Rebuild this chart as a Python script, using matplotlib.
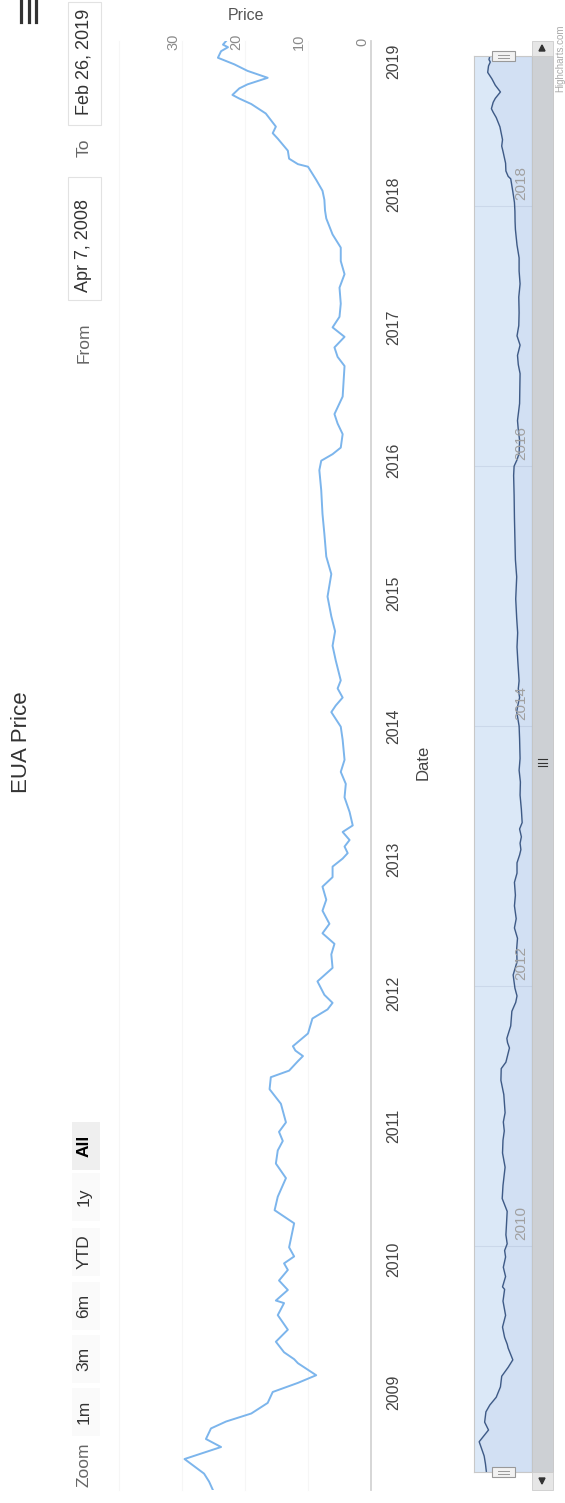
import pandas as pd
import matplotlib.pyplot as plt
from matplotlib.patches import Rectangle, Polygon
from matplotlib.lines import Line2D
from matplotlib.transforms import offset_copy

# EUA price series
dates = pd.to_datetime([
    '2008-04-07', '2008-04-30', '2008-05-22', '2008-07-01', '2008-08-03', '2008-08-25', '2008-09-23', '2008-10-12', '2008-11-03', '2008-12-02',
    '2009-01-01', '2009-01-26', '2009-02-16', '2009-03-21', '2009-04-01', '2009-04-20', '2009-05-19', '2009-06-21', '2009-07-31', '2009-09-02',
    '2009-09-09', '2009-10-08', '2009-11-03', '2009-12-02', '2009-12-20',
    '2010-01-08', '2010-02-02', '2010-04-09', '2010-05-15', '2010-06-21', '2010-08-11', '2010-09-20', '2010-10-26', '2010-11-21', '2010-12-16',
    '2011-01-11', '2011-03-03', '2011-04-12', '2011-05-15', '2011-06-02', '2011-06-28', '2011-07-12', '2011-07-27', '2011-08-08', '2011-09-12',
    '2011-10-23', '2011-11-17', '2011-12-05', '2011-12-27',
    '2012-02-02', '2012-03-10', '2012-04-16', '2012-05-15', '2012-06-13', '2012-07-09', '2012-08-14', '2012-09-13', '2012-10-19', '2012-11-14', '2012-12-13',
    '2013-01-04', '2013-01-19', '2013-02-06', '2013-02-24', '2013-03-18', '2013-04-05', '2013-05-12', '2013-06-21', '2013-07-28', '2013-08-30',
    '2013-10-02', '2013-11-26',
    '2014-01-01', '2014-02-10', '2014-02-28', '2014-03-22', '2014-04-16', '2014-05-08', '2014-07-02', '2014-08-11', '2014-09-20', '2014-10-31', '2014-12-24',
    '2015-02-24', '2015-04-13', '2015-06-14', '2015-08-08', '2015-10-12', '2015-12-06',
    '2016-01-01', '2016-01-19', '2016-02-06', '2016-03-14', '2016-04-12', '2016-05-08', '2016-06-25', '2016-09-17', '2016-10-12', '2016-11-07', '2016-12-06',
    '2017-01-01', '2017-01-30', '2017-03-07', '2017-04-20', '2017-05-27', '2017-07-02', '2017-08-08', '2017-09-13', '2017-10-27', '2017-11-18', '2017-12-17',
    '2018-01-11', '2018-02-10', '2018-03-18', '2018-03-25', '2018-04-09', '2018-05-01', '2018-06-03', '2018-06-18', '2018-07-06', '2018-08-11',
    '2018-09-06', '2018-09-21', '2018-10-01', '2018-10-19', '2018-10-30', '2018-11-17', '2018-12-06', '2018-12-24',
    '2019-01-11', '2019-01-29', '2019-02-09', '2019-02-16', '2019-02-26',
])
prices = [
    25.1, 25.7, 26.5, 29.6, 23.8, 26.2, 25.4, 23.0, 19.0, 16.4,
    15.6, 11.6, 8.7, 11.6, 12.2, 13.8, 15.1, 13.2, 14.8, 13.8,
    15.1, 13.2, 14.6, 13.2, 13.8,
    12.2, 13.0, 12.2, 15.3, 14.8, 13.5, 15.1, 14.8, 14.0, 14.6,
    13.5, 14.3, 16.1, 15.9, 13.0, 11.6, 10.8, 12.0, 12.4, 10.0,
    9.3, 6.9, 6.1, 7.4,
    8.5, 6.1, 6.3, 5.8, 7.7, 6.6, 7.7, 7.1, 7.7, 6.1, 6.1,
    4.5, 3.7, 4.2, 3.4, 4.5, 2.9, 3.4, 4.2, 4.0, 4.8,
    4.2, 4.5,
    4.8, 6.3, 5.6, 4.5, 5.3, 4.8, 5.6, 6.1, 5.7, 6.3, 6.9,
    6.3, 7.1, 7.4, 7.7, 7.9, 8.2,
    7.9, 6.1, 4.8, 4.5, 5.3, 5.8, 4.5, 4.2, 5.3, 5.8, 4.2,
    6.1, 5.0, 4.8, 5.0, 4.2, 4.8, 4.8, 6.1, 7.1, 7.3, 7.4,
    7.7, 8.7, 10.0, 11.6, 13.0, 13.2, 14.8, 15.6, 15.1, 16.7,
    19.0, 20.9, 22.0, 20.9, 19.6, 16.4, 19.6, 21.7,
    24.3, 23.8, 22.7, 23.5, 23.0,
]

price_ticks = [0, 10, 20, 30]
price_max = 40
year_ticks = list(range(2009, 2020))
nav_years = [2010, 2012, 2014, 2016, 2018]
zoom_buttons = ['1m', '3m', '6m', 'YTD', '1y', 'All']

W, H = 565, 1503
plt.rcParams['font.family'] = ['Liberation Sans', 'DejaVu Sans']
fig = plt.figure(figsize=(W / 100, H / 100), dpi=100)


def fx(x):
    return x / W


def fy(y):
    return 1 - y / H


def box(x0, y0, x1, y1, **kw):
    fig.add_artist(Rectangle((fx(x0), fy(y1)), (x1 - x0) / W, (y1 - y0) / H,
                             transform=fig.transFigure, **kw))


def fline(xs, ys, **kw):
    fig.add_artist(Line2D([fx(v) for v in xs], [fy(v) for v in ys],
                          transform=fig.transFigure, **kw))


# the whole chart is turned on its side: time runs upwards, price grows leftwards
ax = fig.add_axes([fx(119), fy(1490), (371 - 119) / W, (1490 - 41) / H])
for p in price_ticks[1:] + [price_max]:
    ax.axvline(p, color='#f6f6f6', lw=0.8, zorder=0, clip_on=False)
ax.plot(prices, dates, color='#7cb5ec', lw=1.4)
ax.set_xlim(price_max, 0)
ax.set_ylim(dates.min(), dates.max())
ax.set_xticks([])
ax.set_yticks([])
for s in ['top', 'left', 'bottom']:
    ax.spines[s].set_visible(False)
ax.spines['right'].set_color('#d3d3d3')
ax.spines['right'].set_linewidth(1.3)

lab_tr = offset_copy(ax.get_xaxis_transform(), fig=fig, x=-9, y=0, units='dots')
for p in price_ticks:
    ax.text(p, 0.9993, str(p), transform=lab_tr, rotation=90, ha='center', va='center',
            fontsize=10.5, color='#8a8a8a')
for yr in year_ticks:
    ax.text(1.091, pd.Timestamp(f'{yr}-01-01'), str(yr), transform=ax.get_yaxis_transform(),
            rotation=90, ha='center', va='center', fontsize=11.5, color='#444444')

fig.text(fx(423), fy(762), 'Date', rotation=90, ha='center', va='center', fontsize=12, color='#444444')
fig.text(fx(246), fy(15), 'Price', ha='center', va='center', fontsize=11.5, color='#555555')
fig.text(fx(22), fy(742), 'EUA Price', rotation=90, ha='center', va='center', fontsize=16, color='#333333')

# navigator
nav = fig.add_axes([fx(474), fy(1472), (531.5 - 474) / W, (1472 - 56) / H])
nav.set_facecolor('#dbe8f7')
for yr in nav_years:
    nav.axhline(pd.Timestamp(f'{yr}-01-01'), color='#cbd8ea', lw=0.8, zorder=0)
nav.fill_betweenx(dates, prices, -3, color='#335cad', alpha=0.05)
nav.plot(prices, dates, color='#3e5a86', lw=1.0)
nav.set_xlim(32.8, -2.9)
nav.set_ylim(dates.min(), dates.max())
nav.set_xticks([])
nav.set_yticks([])
for s in nav.spines.values():
    s.set_color('#c8c8c8')
    s.set_linewidth(0.8)
nav_tr = offset_copy(nav.get_yaxis_transform(), fig=fig, x=0, y=6, units='dots')
for yr in nav_years:
    nav.text(0.817, pd.Timestamp(f'{yr}-01-01'), str(yr), transform=nav_tr, rotation=90,
             ha='center', va='bottom', fontsize=11, color='#a0a0a0')

# navigator handles
for y0 in (51, 1467):
    box(492, y0, 515, y0 + 10, fc='#f2f2f2', ec='#999999', lw=0.8)
    for yy in (y0 + 3.5, y0 + 6.5):
        fline([498, 509], [yy, yy], color='#999999', lw=0.7)

# scrollbar
box(531.5, 56, 553, 1472, fc='#cdd0d4', ec='#c4c4c4', lw=0.6)
box(531.5, 41, 553, 56, fc='#e6e6e6', ec='#cccccc', lw=0.6)
box(531.5, 1472, 553, 1490, fc='#e6e6e6', ec='#cccccc', lw=0.6)
fig.add_artist(Polygon([(fx(539), fy(51)), (fx(545), fy(51)), (fx(542), fy(45))],
                       closed=True, transform=fig.transFigure, color='#333333'))
fig.add_artist(Polygon([(fx(539), fy(1478)), (fx(545), fy(1478)), (fx(542), fy(1484))],
                       closed=True, transform=fig.transFigure, color='#333333'))
for yy in (759, 762.5, 766):
    fline([538, 547], [yy, yy], color='#333333', lw=0.8)

# range selector
btn_y = [1412, 1359, 1306, 1252, 1197, 1146]
fig.text(fx(84), fy(1465), 'Zoom', rotation=90, ha='center', va='center', fontsize=12.5, color='#666666')
for lab, yc in zip(zoom_buttons, btn_y):
    sel = lab == 'All'
    box(72, yc - 24, 100, yc + 24, fc='#efefef' if sel else '#fafafa', ec='none')
    fig.text(fx(84), fy(yc), lab, rotation=90, ha='center', va='center', fontsize=12.5,
             color='#000000' if sel else '#333333', fontweight='bold' if sel else 'normal')

fig.text(fx(84), fy(343), 'From', rotation=90, ha='center', va='center', fontsize=12.5, color='#666666')
box(68, 177, 101, 300, fc='white', ec='#e2e2e2', lw=0.8)
fig.text(fx(84), fy(245), 'Apr 7, 2008', rotation=90, ha='center', va='center', fontsize=13, color='#333333')
fig.text(fx(84), fy(148), 'To', rotation=90, ha='center', va='center', fontsize=12.5, color='#666666')
box(68, 2, 101, 125, fc='white', ec='#e2e2e2', lw=0.8)
fig.text(fx(84), fy(62), 'Feb 26, 2019', rotation=90, ha='center', va='center', fontsize=13, color='#333333')

# menu icon and credits
for xx in (21, 29, 36):
    fline([xx, xx], [0, 22], color='#333333', lw=2.3)
fig.text(fx(560), fy(92), 'Highcharts.com', rotation=90, ha='center', va='bottom', fontsize=7, color='#aaaaaa')

fig.savefig('out.png', dpi=100)
